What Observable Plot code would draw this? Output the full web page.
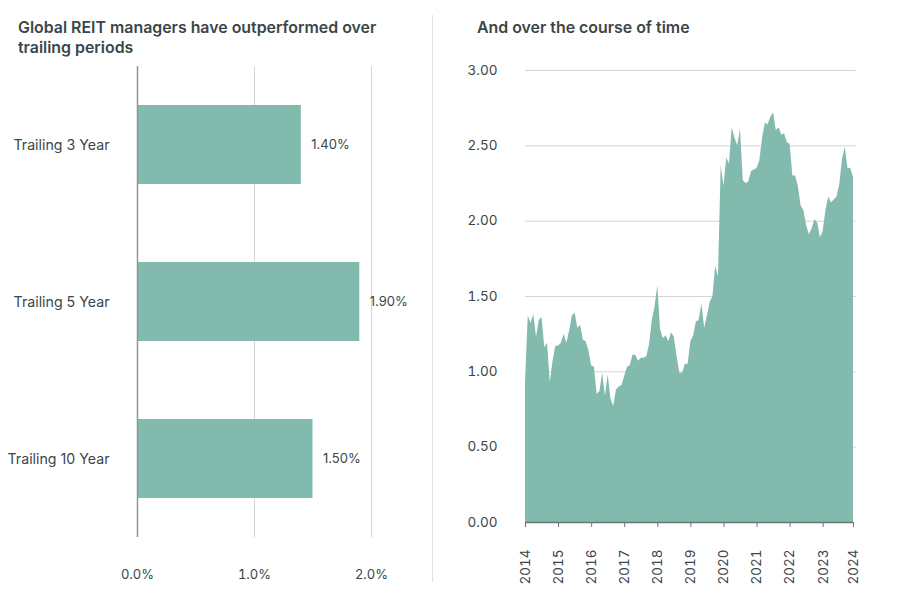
<!DOCTYPE html>
<html>
<head>
<meta charset="utf-8">
<script src="https://cdn.jsdelivr.net/npm/d3@7"></script>
<script src="https://cdn.jsdelivr.net/npm/@observablehq/plot@0.6"></script>
<style>
  body { margin: 0; background: #fff; font-family: Inter, "Noto Sans", sans-serif; }
  #wrap { position: relative; width: 900px; height: 600px; overflow: hidden; }
  .title { position: absolute; font-weight: 600; font-size: 15.9px; line-height: 20px; color: #3a4649; }
  .chart { position: absolute; top: 0; }
  .chart svg { overflow: visible; }
  #sep { position: absolute; left: 432px; top: 15px; width: 1px; height: 567px; background: #e2e2e2; }
</style>
</head>
<body>
<div id="wrap">
  <div class="title" style="left:18px; top:18px;">Global REIT managers have outperformed over<br>trailing periods</div>
  <div class="title" style="left:477px; top:18px;">And over the course of time</div>
  <div id="sep"></div>
  <div id="left" class="chart" style="left:0px;"></div>
  <div id="right" class="chart" style="left:432px;"></div>
</div>
<script>
// ---- Left chart data ----
const periods = ["Trailing 3 Year", "Trailing 5 Year", "Trailing 10 Year"];
const outperformance = [1.40, 1.90, 1.50];
const pctTicks = [0, 1, 2];
const pctTickLabels = ["0.0%", "1.0%", "2.0%"];
const barLabels = ["1.40%", "1.90%", "1.50%"];

// ---- Right chart data (monthly, Jan 2014 - Dec 2023) ----
const ratioValues = [
  0.93, 1.37, 1.32, 1.38, 1.23, 1.34, 1.36, 1.16, 1.19, 0.93, 1.07, 1.17,
  1.17, 1.19, 1.25, 1.19, 1.27, 1.37, 1.39, 1.29, 1.31, 1.21, 1.20, 1.14,
  1.04, 1.03, 0.85, 0.87, 0.99, 0.84, 0.98, 0.82, 0.77, 0.88, 0.90, 0.91,
  0.97, 1.03, 1.04, 1.11, 1.11, 1.07, 1.09, 1.09, 1.10, 1.18, 1.34, 1.43,
  1.57, 1.28, 1.22, 1.24, 1.20, 1.26, 1.23, 1.10, 0.99, 0.99, 1.05, 1.05,
  1.20, 1.24, 1.33, 1.34, 1.45, 1.29, 1.37, 1.46, 1.50, 1.70, 1.63, 2.37,
  2.23, 2.42, 2.38, 2.62, 2.55, 2.50, 2.61, 2.27, 2.25, 2.26, 2.33, 2.34,
  2.35, 2.40, 2.55, 2.65, 2.64, 2.69, 2.72, 2.60, 2.62, 2.57, 2.58, 2.52,
  2.51, 2.30, 2.30, 2.23, 2.10, 2.07, 1.97, 1.91, 1.95, 2.01, 1.99, 1.89,
  1.93, 2.07, 2.16, 2.12, 2.14, 2.16, 2.24, 2.41, 2.49, 2.35, 2.35, 2.29
];
const yearTicks = [0, 12, 24, 36, 48, 60, 72, 84, 96, 108, 119];
const yearLabels = ["2014","2015","2016","2017","2018","2019","2020","2021","2022","2023","2024"];
const ratioTicks = [0, 0.5, 1, 1.5, 2, 2.5, 3];

const fillColor = "#82bbad";
const textColor = "#3a4649";
const gridColor = "#d4d4d4";

const barData = periods.map((p, i) => ({period: p, value: outperformance[i], label: barLabels[i]}));

const left = Plot.plot({
  width: 432,
  height: 600,
  marginLeft: 137,
  marginRight: 61,
  marginTop: 66,
  marginBottom: 63,
  style: {fontFamily: "Inter, 'Noto Sans', sans-serif", fontSize: "13px", color: textColor, background: "transparent"},
  x: {domain: [0, 2], label: null},
  y: {domain: periods, paddingInner: 0.5, paddingOuter: 0.25, label: null},
  marks: [
    Plot.ruleX([1, 2], {stroke: gridColor, strokeWidth: 1}),
    Plot.barX(barData, {y: "period", x: "value", fill: fillColor}),
    Plot.ruleX([0], {stroke: "#8f9596", strokeWidth: 1.5}),
    Plot.text(barData, {y: "period", x: "value", text: "label", dx: 10, textAnchor: "start", fill: textColor, fontSize: 13}),
    Plot.axisX({ticks: pctTicks, tickFormat: d => pctTickLabels[pctTicks.indexOf(d)], tickSize: 0, tickPadding: 32, fill: textColor, fontSize: 13}),
    Plot.axisY({tickSize: 0, tickPadding: 28, fill: textColor, fontSize: 14.2})
  ]
});
document.getElementById("left").appendChild(left);

const right = Plot.plot({
  width: 468,
  height: 600,
  marginLeft: 93,
  marginRight: 47,
  marginTop: 70,
  marginBottom: 78,
  style: {fontFamily: "Inter, 'Noto Sans', sans-serif", fontSize: "13px", color: textColor, background: "transparent"},
  x: {domain: [0, 119], label: null},
  y: {domain: [0, 3], label: null},
  marks: [
    Plot.ruleY(ratioTicks.slice(1), {stroke: gridColor, strokeWidth: 1, x1: 0, x2: 120}),
    Plot.areaY(ratioValues, {x: (d, i) => i, y: d => d, fill: fillColor}),
    Plot.ruleY([0], {stroke: "#6d7476", strokeWidth: 1.5}),
    Plot.axisY({ticks: ratioTicks, tickFormat: d3.format(".2f"), tickSize: 0, tickPadding: 28, fill: textColor, fontSize: 13.5}),
    Plot.axisX({ticks: yearTicks, tickFormat: d => yearLabels[yearTicks.indexOf(d)], tickRotate: -90, tickSize: 5, tickPadding: 22, stroke: "#6d7476", fill: textColor, fontSize: 13.5})
  ]
});
document.getElementById("right").appendChild(right);
</script>
</body>
</html>
